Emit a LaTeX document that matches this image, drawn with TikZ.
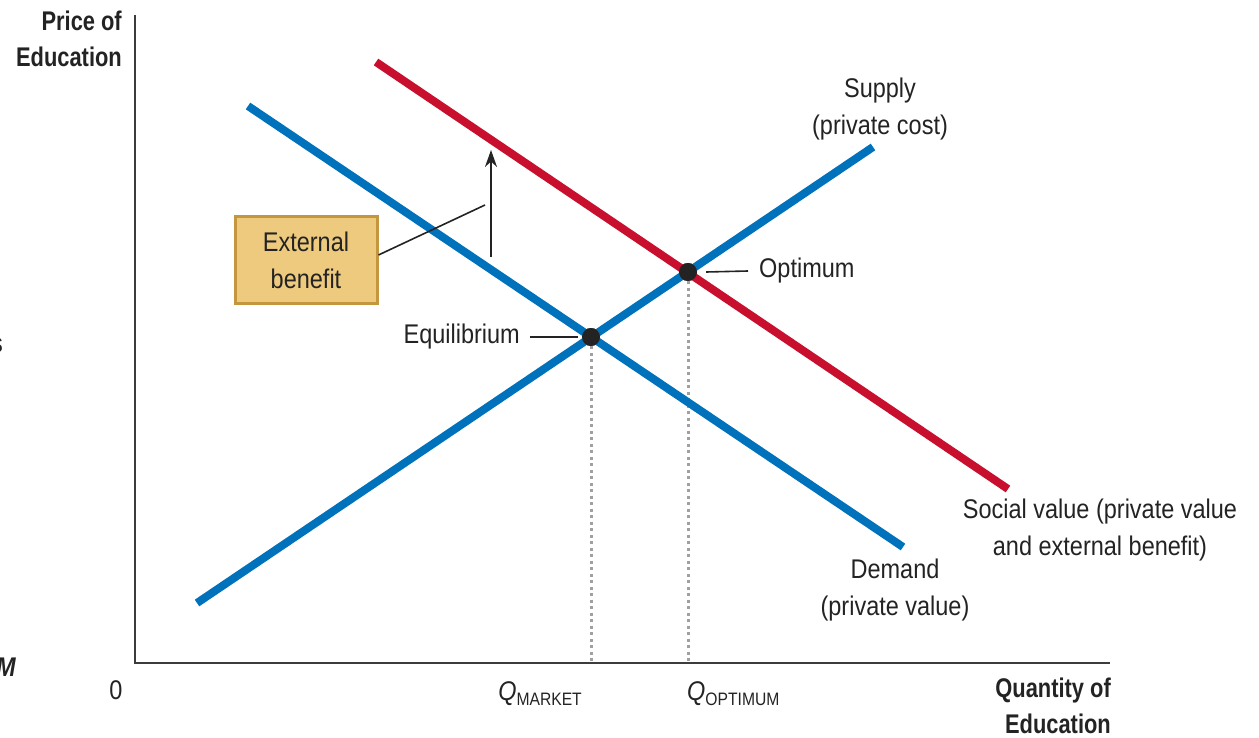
\documentclass[tikz,border=0pt]{standalone}
\usepackage{fontspec}
\setmainfont[FakeStretch=0.87,BoldFeatures={FakeStretch=0.81}]{Liberation Sans}
\usetikzlibrary{arrows.meta}
\definecolor{curveblue}{RGB}{0,114,188}
\definecolor{curvered}{RGB}{200,16,46}
\definecolor{boxfill}{RGB}{238,202,126}
\definecolor{boxline}{RGB}{196,150,62}
\definecolor{axisgray}{RGB}{60,60,60}
\definecolor{dotgray}{RGB}{160,160,160}
\definecolor{inkgray}{RGB}{35,35,35}
\tikzset{
  lbl/.style={font=\fontsize{27}{37}\selectfont, text=inkgray, inner sep=0pt, align=center},
  axlbl/.style={font=\fontsize{27}{36}\selectfont\bfseries, text=inkgray, inner sep=0pt, align=right},
  curve/.style={line width=8pt},
  axis/.style={draw=axisgray, line width=2.5pt},
  guide/.style={draw=dotgray, line width=3pt, dash pattern=on 3pt off 3.5pt},
  leader/.style={draw=inkgray, line width=1.6pt},
  pt/.style={circle, fill=inkgray, minimum size=18pt, inner sep=0pt},
  ebox/.style={draw=boxline, fill=boxfill, line width=3pt, minimum width=142pt, minimum height=87pt, inner sep=0pt}
}
\newcommand{\qsub}[1]{\itshape Q\upshape\raisebox{-5pt}{\fontsize{18}{18}\selectfont #1}}
\begin{document}
\begin{tikzpicture}[x=1pt,y=-1pt]
  \useasboundingbox (0,0) rectangle (1259,738);
  % axes
  \coordinate (o) at (135,663);
  \coordinate (ytop) at (135,15);
  \coordinate (xend) at (1110,663);
  % curve ends
  \coordinate (d1) at (248,106);
  \coordinate (d2) at (903,547);
  \coordinate (s1) at (197,603);
  \coordinate (s2) at (873,147);
  \coordinate (v1) at (376,62);
  \coordinate (v2) at (1008,489);
  \coordinate (qm) at (591,663);
  \coordinate (qo) at (688,663);
  \node[pt] (eq) at (591,337) {};
  \node[pt] (opt) at (688,272) {};
  \draw[guide] (eq) -- (qm);
  \draw[guide] (opt) -- (qo);
  \draw[axis] (ytop) -- (o) -- (xend);
  \draw[curve, curveblue] (s1) -- (s2);
  \draw[curve, curveblue] (d1) -- (d2);
  \draw[curve, curvered] (v1) -- (v2);
  \node[pt] at (eq) {};
  \node[pt] at (opt) {};
  % labels on the points
  \node[lbl, anchor=east] (eqlbl) at (520,337) {Equilibrium};
  \draw[leader] ([xshift=10pt]eqlbl.east) -- ([xshift=-4pt]eq.west);
  \node[lbl, anchor=west] (optlbl) at (759,271) {Optimum};
  \draw[leader] ([xshift=9pt]opt.east) -- ([xshift=-11pt]optlbl.west);
  % external benefit
  \coordinate (ebot) at (491,257);
  \coordinate (etop) at (491,150);
  \coordinate (eleg) at (485,205);
  \draw[leader, line width=2pt, -{Stealth[length=17pt,width=12pt]}] (ebot) -- (etop);
  \node[ebox, lbl] (ext) at (306,260) {External\\benefit};
  \draw[leader] ([yshift=5pt]ext.east) -- (eleg);
  % curve labels
  \node[lbl] (slbl) at (880,109) {Supply\\(private cost)};
  \node[lbl] (vlbl) at (1100,530) {Social value (private value\\and external benefit)};
  \node[lbl] (dlbl) at (895,590) {Demand\\(private value)};
  % axis labels
  \node[axlbl, anchor=east] (plbl) at (122,39) {Price of\\Education};
  \node[axlbl, anchor=east] (xlbl) at (1111,706) {Quantity of\\Education};
  \node[lbl] (zero) at (116,690) {0};
  \node[lbl, anchor=base east] (qmlbl) at (582,700) {\qsub{MARKET}};
  \node[lbl, anchor=base west] (qolbl) at (687,700) {\qsub{OPTIMUM}};
  % cut off at the left edge
  \node[lbl, anchor=east] (cuts) at (3,345) {s};
  \node[lbl, anchor=east, font=\fontsize{27}{37}\selectfont\bfseries\itshape] (cutm) at (16,667) {M};
\end{tikzpicture}
\end{document}
